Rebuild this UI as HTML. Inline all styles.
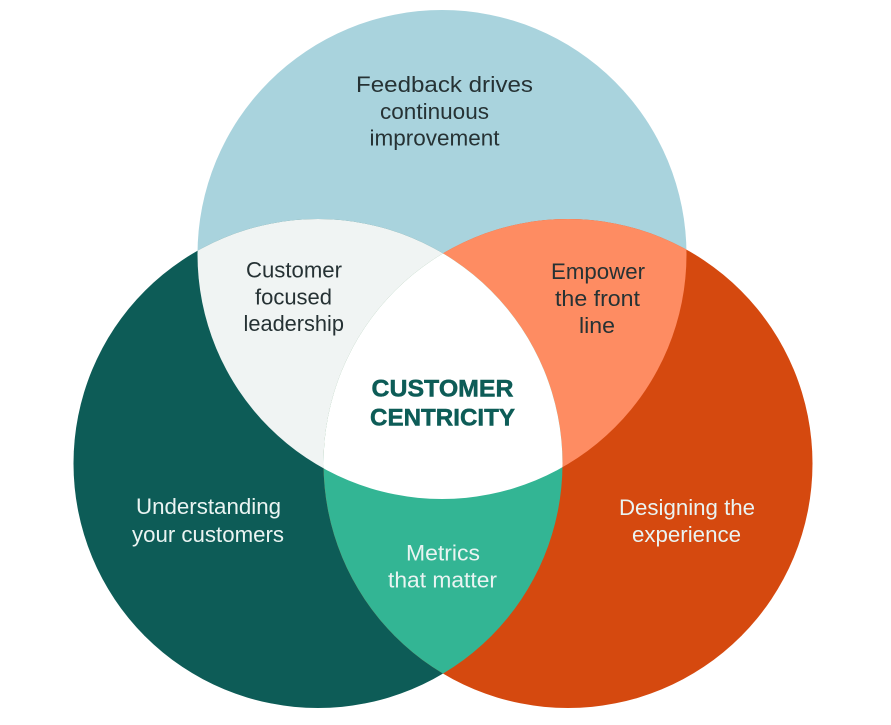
<!DOCTYPE html>
<html>
<head>
<meta charset="utf-8">
<style>
html,body{margin:0;padding:0;background:#fff;width:891px;height:725px;overflow:hidden}
svg{display:block}
text{font-family:"Liberation Sans",sans-serif;font-size:22.5px}
</style>
</head>
<body>
<svg width="891" height="725" viewBox="0 0 891 725" xmlns="http://www.w3.org/2000/svg">
<defs>
<clipPath id="t"><circle cx="442" cy="254.5" r="244.5"/></clipPath>
<clipPath id="l"><circle cx="318" cy="463.5" r="244.5"/></clipPath>
<clipPath id="r"><circle cx="568" cy="463.5" r="244.5"/></clipPath>
</defs>
<rect width="891" height="725" fill="#fff"/>
<circle cx="442" cy="254.5" r="244.5" fill="#a9d3dd"/>
<circle cx="318" cy="463.5" r="244.5" fill="#0d5c57"/>
<circle cx="568" cy="463.5" r="244.5" fill="#d5490f"/>
<g clip-path="url(#t)"><circle cx="318" cy="463.5" r="244.5" fill="#f0f4f3"/></g>
<g clip-path="url(#t)"><circle cx="568" cy="463.5" r="244.5" fill="#fe8c62"/></g>
<g clip-path="url(#l)"><circle cx="568" cy="463.5" r="244.5" fill="#33b594"/></g>
<g clip-path="url(#t)"><g clip-path="url(#l)"><circle cx="568" cy="463.5" r="244.5" fill="#ffffff"/></g></g>

<g fill="#263234">
<text x="356" y="92" textLength="177" lengthAdjust="spacingAndGlyphs">Feedback drives</text>
<text x="380" y="119" textLength="109" lengthAdjust="spacingAndGlyphs">continuous</text>
<text x="369.500" y="145.500" textLength="130" lengthAdjust="spacingAndGlyphs">improvement</text>
<text x="246" y="277.500" textLength="96" lengthAdjust="spacingAndGlyphs">Customer</text>
<text x="255" y="304.500" textLength="77" lengthAdjust="spacingAndGlyphs">focused</text>
<text x="243.500" y="331" textLength="100.500" lengthAdjust="spacingAndGlyphs">leadership</text>
<text x="551" y="279" textLength="94" lengthAdjust="spacingAndGlyphs">Empower</text>
<text x="555" y="306" textLength="85" lengthAdjust="spacingAndGlyphs">the front</text>
<text x="579" y="333" textLength="36" lengthAdjust="spacingAndGlyphs">line</text>
</g>
<g fill="#eaf4f2">
<text x="136" y="514" textLength="145" lengthAdjust="spacingAndGlyphs">Understanding</text>
<text x="132" y="542" textLength="152" lengthAdjust="spacingAndGlyphs">your customers</text>
<text x="619" y="515" textLength="136" lengthAdjust="spacingAndGlyphs">Designing the</text>
<text x="632" y="542" textLength="109" lengthAdjust="spacingAndGlyphs">experience</text>
<text x="406" y="560.500" textLength="74" lengthAdjust="spacingAndGlyphs">Metrics</text>
<text x="388" y="587.500" textLength="109" lengthAdjust="spacingAndGlyphs">that matter</text>
</g>
<g fill="#0d5c57" stroke="#0d5c57" stroke-width="0.5">
<text x="371.500" y="396.500" style="font-size:24px;font-weight:bold" textLength="142" lengthAdjust="spacingAndGlyphs">CUSTOMER</text>
<text x="370" y="425.500" style="font-size:24px;font-weight:bold" textLength="145" lengthAdjust="spacingAndGlyphs">CENTRICITY</text>
</g>
</svg>
</body>
</html>
